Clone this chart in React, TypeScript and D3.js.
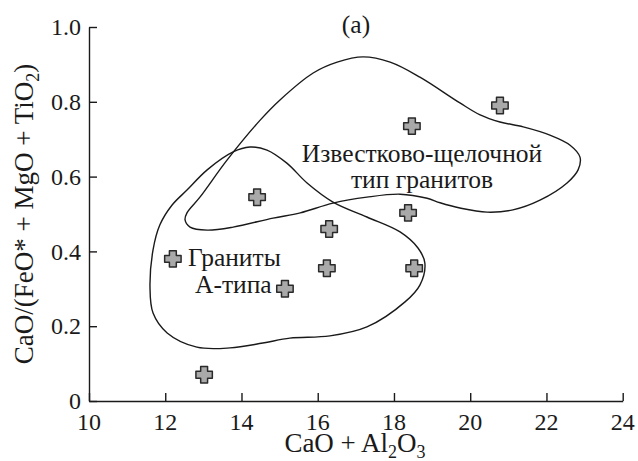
import React, { useEffect, useRef } from "react";
import * as d3 from "d3";

// samples: CaO + Al2O3 vs CaO/(FeO* + MgO + TiO2)
const caoAl2o3 = [12.2, 13.02, 14.41, 15.14, 16.24, 16.3, 18.37, 18.47, 20.78, 18.53];
const caoRatio = [0.38, 0.07, 0.545, 0.3, 0.355, 0.46, 0.503, 0.735, 0.79, 0.355];

const xTicks = [10, 12, 14, 16, 18, 20, 22, 24];
const yTicks = [0, 0.2, 0.4, 0.6, 0.8, 1.0];

// calc-alkaline granite field outline
const calcAlkalineField: [number, number][] = [
  [12.57, 0.503], [12.91, 0.545], [13.62, 0.644], [14.49, 0.751], [15.01, 0.805],
  [15.88, 0.877], [16.51, 0.906], [17.19, 0.92], [17.9, 0.906], [18.68, 0.866],
  [19.73, 0.797], [20.26, 0.765], [20.78, 0.746], [21.39, 0.733], [22.09, 0.711],
  [22.62, 0.684], [22.88, 0.652], [22.83, 0.618], [22.54, 0.583], [21.83, 0.537],
  [21.12, 0.511], [20.44, 0.505], [19.73, 0.516], [19.21, 0.53], [18.87, 0.542],
  [18.16, 0.553], [17.29, 0.545], [16.4, 0.529], [15.54, 0.503], [14.83, 0.489],
  [13.78, 0.465], [13.1, 0.457], [12.65, 0.465], [12.52, 0.484],
];

// A-type granite field outline
const aTypeField: [number, number][] = [
  [11.68, 0.404], [11.86, 0.471], [12.18, 0.524], [12.57, 0.564], [13.1, 0.618],
  [13.78, 0.666], [14.22, 0.679], [14.67, 0.671], [15.19, 0.636], [15.72, 0.583],
  [16.4, 0.532], [17.29, 0.492], [18.16, 0.452], [18.63, 0.409], [18.81, 0.369],
  [18.68, 0.31], [18.29, 0.265], [17.29, 0.198], [16.32, 0.174], [15.27, 0.168],
  [14.56, 0.155], [13.7, 0.142], [12.83, 0.144], [12.05, 0.182], [11.68, 0.235],
  [11.6, 0.305],
];

const FONT = "'Liberation Serif', 'Times New Roman', serif";
const INK = "#1a1a1a";

const plusSymbol = {
  draw(ctx: any, size: number) {
    const b = Math.sqrt(size) / 2;
    const a = b * 0.42;
    ctx.moveTo(-a, -b);
    ctx.lineTo(a, -b);
    ctx.lineTo(a, -a);
    ctx.lineTo(b, -a);
    ctx.lineTo(b, a);
    ctx.lineTo(a, a);
    ctx.lineTo(a, b);
    ctx.lineTo(-a, b);
    ctx.lineTo(-a, a);
    ctx.lineTo(-b, a);
    ctx.lineTo(-b, -a);
    ctx.lineTo(-a, -a);
    ctx.closePath();
  },
};

function Chart() {
  const ref = useRef<SVGSVGElement>(null);

  useEffect(() => {
    const svg = d3.select(ref.current);
    svg.selectAll("*").remove();

    const x = d3.scaleLinear().domain([10, 24]).range([89, 622.7]);
    const y = d3.scaleLinear().domain([0, 1]).range([401, 27]);

    const g = svg.append("g");

    // axis lines and inward ticks (labels drawn separately)
    const xAxis = g
      .append("g")
      .attr("transform", `translate(0,${y(0)})`)
      .call(d3.axisBottom(x).tickValues(xTicks).tickSizeInner(-8).tickSizeOuter(0).tickFormat(() => ""));
    const yAxis = g
      .append("g")
      .attr("transform", `translate(${x(10)},0)`)
      .call(d3.axisLeft(y).tickValues(yTicks).tickSizeInner(-8).tickSizeOuter(0).tickFormat(() => ""));
    [xAxis, yAxis].forEach((ax) => {
      ax.select(".domain").attr("stroke", INK).attr("stroke-width", 1.4);
      ax.selectAll(".tick line").attr("stroke", INK).attr("stroke-width", 1.4);
      ax.selectAll(".tick text").remove();
    });

    const txt = (sel: any, size: number) =>
      sel.attr("fill", INK).style("font-family", FONT).style("font-size", size + "px");

    txt(
      g.append("g")
        .selectAll("text")
        .data(xTicks)
        .enter()
        .append("text")
        .attr("x", (d: number) => x(d))
        .attr("y", 430)
        .attr("text-anchor", "middle")
        .text((d: number) => String(d)),
      24
    );
    txt(
      g.append("g")
        .selectAll("text")
        .data(yTicks)
        .enter()
        .append("text")
        .attr("x", 81)
        .attr("y", (d: number) => y(d))
        .attr("dy", "0.34em")
        .attr("text-anchor", "end")
        .text((d: number) => (d === 0 ? "0" : d3.format(".1f")(d))),
      24
    );

    // fields
    const line = d3
      .line<[number, number]>()
      .x((d) => x(d[0]))
      .y((d) => y(d[1]))
      .curve(d3.curveCatmullRomClosed.alpha(0.5));

    [calcAlkalineField, aTypeField].forEach((field) => {
      g.append("path")
        .attr("d", line(field))
        .attr("fill", "none")
        .attr("stroke", INK)
        .attr("stroke-width", 1.4);
    });

    // samples
    const sym = d3.symbol().type(plusSymbol as any).size(270);
    g.selectAll("path.sample")
      .data(caoAl2o3.map((v, i) => [v, caoRatio[i]]))
      .enter()
      .append("path")
      .attr("class", "sample")
      .attr("d", sym)
      .attr("transform", (d) => `translate(${x(d[0])},${y(d[1])})`)
      .attr("fill", "#a9a9a9")
      .attr("stroke", "#2a2a2a")
      .attr("stroke-width", 1.5)
      .attr("stroke-linejoin", "round");

    // labels
    const label = (tx: number, ty: number, text: string, anchor = "middle") =>
      txt(g.append("text").attr("x", tx).attr("y", ty).attr("text-anchor", anchor).text(text), 25.5);

    label(356, 33, "(a)");
    label(422, 162, "Известково-щелочной");
    label(422, 188, "тип гранитов");
    label(188, 266, "Граниты", "start");
    label(195, 293, "А-типа", "start");

    // x title
    const xt = txt(g.append("text").attr("x", 355).attr("y", 452).attr("text-anchor", "middle"), 27);
    xt.append("tspan").text("CaO + Al");
    xt.append("tspan").attr("dy", 6).style("font-size", "18px").text("2");
    xt.append("tspan").attr("dy", -6).text("O");
    xt.append("tspan").attr("dy", 6).style("font-size", "18px").text("3");

    // y title
    const yt = txt(
      g.append("text").attr("transform", "translate(33,214) rotate(-90)").attr("text-anchor", "middle"),
      27
    );
    yt.append("tspan").text("CaO/(FeO* + MgO + TiO");
    yt.append("tspan").attr("dy", 6).style("font-size", "18px").text("2");
    yt.append("tspan").attr("dy", -6).text(")");
  }, []);

  return (
    <svg
      ref={ref}
      width={638}
      height={461}
      style={{ position: "absolute", left: 0, top: 0, background: "#fff" }}
    />
  );
}

export default function App() {
  return <Chart />;
}
